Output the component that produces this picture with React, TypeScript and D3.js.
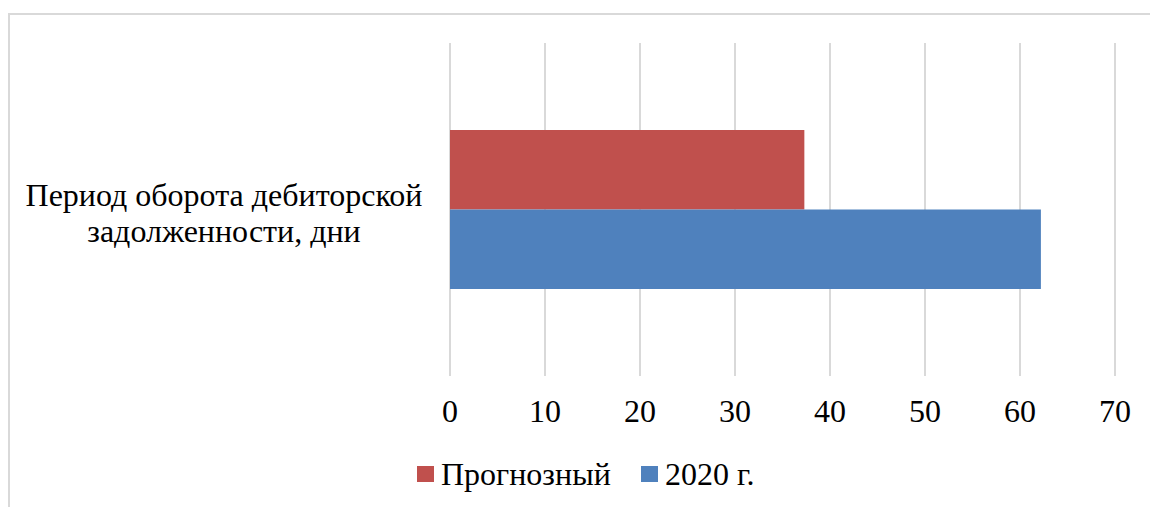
import React from "react";
import * as d3 from "d3";

const categories = ["Период оборота дебиторской задолженности, дни"];
const categoryLines = [["Период оборота дебиторской", "задолженности, дни"]];
const seriesNames = ["Прогнозный", "2020 г."];
const seriesColors = ["#C0504D", "#4F81BD"];
const forecastValues = [37.3];
const year2020Values = [62.2];
const xTicks = [0, 10, 20, 30, 40, 50, 60, 70];

const W = 1150;
const H = 507;
const FONT = "'Liberation Serif', 'Times New Roman', serif";

export default function App() {
  const plot = { left: 450, right: 1115, top: 43, bottom: 376 };
  const x = d3.scaleLinear().domain([0, 70]).range([plot.left, plot.right]);
  const y = d3
    .scaleBand<string>()
    .domain(categories)
    .range([plot.top, plot.bottom])
    .padding(0.3537);
  const ySeries = d3
    .scaleBand<string>()
    .domain(seriesNames)
    .range([0, y.bandwidth()])
    .padding(0);

  const seriesValues = [forecastValues, year2020Values];

  return (
    <svg
      width={W}
      height={H}
      style={{ position: "absolute", left: 0, top: 0, background: "#fff" }}
      fontFamily={FONT}
    >
      <rect x={0} y={0} width={W} height={H} fill="#fff" />
      {/* chart area border (right and bottom edges fall outside the view) */}
      <rect
        x={9}
        y={14}
        width={W + 20}
        height={H + 20}
        fill="none"
        stroke="#d9d9d9"
        strokeWidth={2}
      />
      {/* vertical gridlines */}
      {xTicks.map((t) => (
        <line
          key={"g" + t}
          x1={x(t)}
          x2={x(t)}
          y1={plot.top}
          y2={plot.bottom}
          stroke="#d9d9d9"
          strokeWidth={2}
        />
      ))}
      {/* bars */}
      {categories.map((c, ci) =>
        seriesNames.map((s, si) => {
          const v = seriesValues[si][ci];
          return (
            <rect
              key={c + s}
              x={x(0)}
              y={(y(c) ?? 0) + (ySeries(s) ?? 0)}
              width={x(v) - x(0)}
              height={ySeries.bandwidth()}
              fill={seriesColors[si]}
            />
          );
        })
      )}
      {/* category labels */}
      {categories.map((c, ci) => {
        const cy = (y(c) ?? 0) + y.bandwidth() / 2;
        const lines = categoryLines[ci];
        return (
          <text key={c} x={224} y={cy - 4} fontSize={32} textAnchor="middle" fill="#000">
            {lines.map((ln, li) => (
              <tspan key={li} x={224} y={cy - 4 + li * 36}>
                {ln}
              </tspan>
            ))}
          </text>
        );
      })}
      {/* x-axis tick labels */}
      {xTicks.map((t) => (
        <text
          key={"t" + t}
          x={x(t)}
          y={422}
          fontSize={32}
          textAnchor="middle"
          fill="#000"
        >
          {t}
        </text>
      ))}
      {/* legend */}
      <g>
        <rect x={417} y={466} width={17} height={16} fill={seriesColors[0]} />
        <text x={441} y={485} fontSize={32} fill="#000">
          {seriesNames[0]}
        </text>
        <rect x={641} y={466} width={17} height={16} fill={seriesColors[1]} />
        <text x={665} y={485} fontSize={32} fill="#000">
          {seriesNames[1]}
        </text>
      </g>
    </svg>
  );
}
